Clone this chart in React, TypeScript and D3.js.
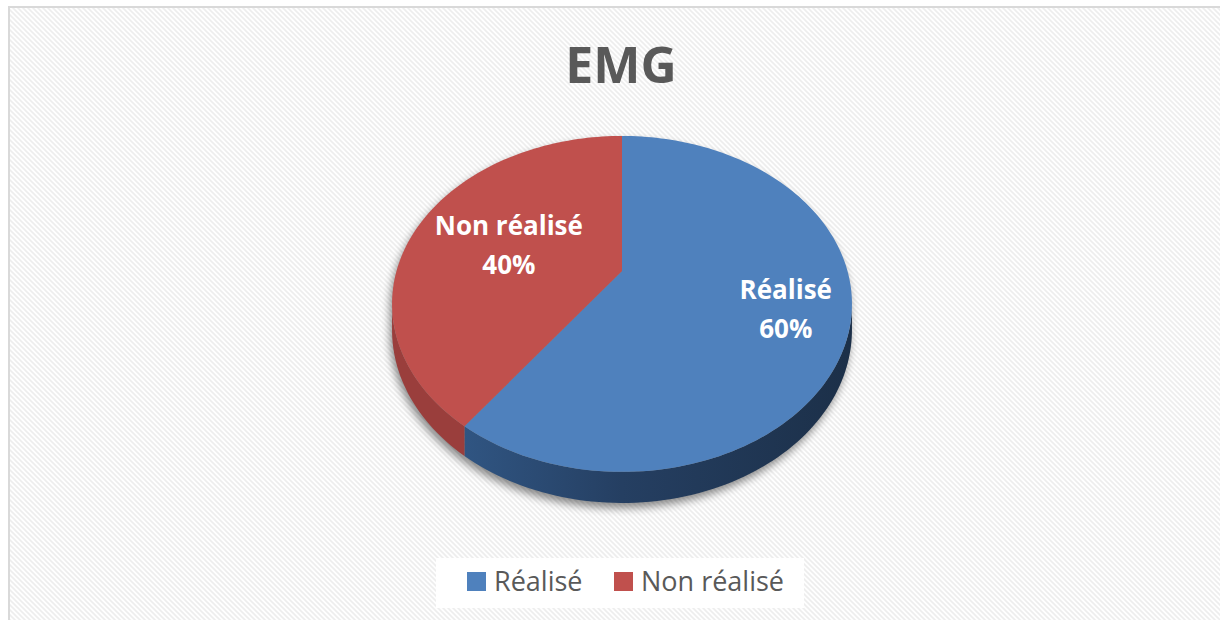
import React from "react";
import * as d3 from "d3";

const title = "EMG";
const categories = ["Réalisé", "Non réalisé"];
const values = [60, 40];
const colors = ["#4f81bd", "#c0504d"];
const wallColors = [
  ["#305582", "#253f62", "#1c3049"],
  ["#9a3e3c", "#8a3634", "#7a2f2d"],
];

// layout
const W = 1220, H = 620;
const cx = 622, cy = 271;
const A = 225.5, B = 161.5, P = 0.196, DEPTH = 25;
const labelK = [0.73, 0.545];

function proj(theta: number, k: number, drop = 0): [number, number] {
  const s = Math.sin(theta), c = Math.cos(theta);
  const den = 1 + P * k * c;
  return [cx + (A * k * s) / den, cy - (B * k * c) / den + drop / den];
}

function rim(a0: number, a1: number, drop = 0): [number, number][] {
  const n = Math.max(2, Math.ceil(((a1 - a0) / (Math.PI * 2)) * 240));
  const pts: [number, number][] = [];
  for (let i = 0; i <= n; i++) {
    const t = a0 + ((a1 - a0) * i) / n;
    pts.push(proj(t, 1, drop));
  }
  return pts;
}

const line = d3.line<[number, number]>().x((d) => d[0]).y((d) => d[1]);

export default function App() {
  const arcs = d3.pie<number>().sort(null).value((d) => d)(values);
  const t1 = Math.acos(-P);
  const t2 = Math.PI * 2 - t1;
  const pct = d3.format(".0%");
  const total = d3.sum(values);

  const walls = arcs
    .map((a, i) => {
      const s = Math.max(a.startAngle, t1);
      const e = Math.min(a.endAngle, t2);
      if (e <= s) return null;
      const top = rim(s, e);
      const bot = rim(s, e, DEPTH).reverse();
      return { i, d: line([...top, ...bot])! + "Z" };
    })
    .filter(Boolean) as { i: number; d: string }[];

  const tops = arcs.map((a, i) => {
    const pts: [number, number][] = [proj(0, 0), ...rim(a.startAngle, a.endAngle)];
    return { i, d: line(pts)! + "Z" };
  });

  const silhouette =
    line(rim(0, Math.PI * 2))! + "Z " + line([...rim(t1, t2), ...rim(t1, t2, DEPTH).reverse()])! + "Z";

  const legendX = [467, 614];

  return (
    <svg
      width={W}
      height={H}
      style={{ position: "absolute", left: 0, top: 0, display: "block" }}
      fontFamily="'Open Sans', sans-serif"
    >
      <defs>
        <pattern id="hatch" patternUnits="userSpaceOnUse" width={5} height={5}>
          <rect width={5} height={5} fill="#ffffff" />
          <path d="M-1,-1 L6,6 M-1,4 L1,6 M4,-1 L6,1" stroke="#ededed" strokeWidth={1.6} />
        </pattern>
        <filter id="shadow" x="-20%" y="-20%" width="140%" height="140%">
          <feGaussianBlur stdDeviation={4} />
        </filter>
        {wallColors.map((wc, i) => (
          <linearGradient key={i} id={`wall${i}`} gradientUnits="userSpaceOnUse" x1={cx - A} y1={0} x2={cx + A} y2={0}>
            <stop offset="0.15" stopColor={wc[0]} />
            <stop offset="0.5" stopColor={wc[1]} />
            <stop offset="1" stopColor={wc[2]} />
          </linearGradient>
        ))}
      </defs>
      <rect x={0} y={0} width={W} height={H} fill="#ffffff" />
      <rect x={9} y={7} width={W + 20} height={H + 20} fill="url(#hatch)" stroke="#d9d9d9" strokeWidth={2} />

      <text x={621} y={83} textAnchor="middle" fontSize={50} fontWeight="bold" fill="#595959">
        {title}
      </text>

      <g transform="translate(-2,5)" opacity={0.45} filter="url(#shadow)">
        <path d={silhouette} fill="#000" />
      </g>

      {walls.map((w) => (
        <path key={"w" + w.i} d={w.d} fill={`url(#wall${w.i})`} />
      ))}
      {tops.map((t) => (
        <path key={"t" + t.i} d={t.d} fill={colors[t.i]} />
      ))}

      {arcs.map((a, i) => {
        const mid = (a.startAngle + a.endAngle) / 2;
        const [lx, ly] = proj(mid, labelK[i]);
        return (
          <text key={"l" + i} x={lx} textAnchor="middle" fontSize={26} fontWeight="bold" fill="#ffffff">
            <tspan x={lx} y={ly - 10}>{categories[i]}</tspan>
            <tspan x={lx} y={ly + 29}>{pct(values[i] / total)}</tspan>
          </text>
        );
      })}

      <rect x={436} y={558} width={368} height={50} fill="#ffffff" />
      {categories.map((c, i) => (
        <g key={"lg" + i}>
          <rect x={legendX[i]} y={572} width={19} height={19} fill={colors[i]} />
          <text x={legendX[i] + 27} y={591} fontSize={27} fill="#595959">
            {c}
          </text>
        </g>
      ))}
    </svg>
  );
}
